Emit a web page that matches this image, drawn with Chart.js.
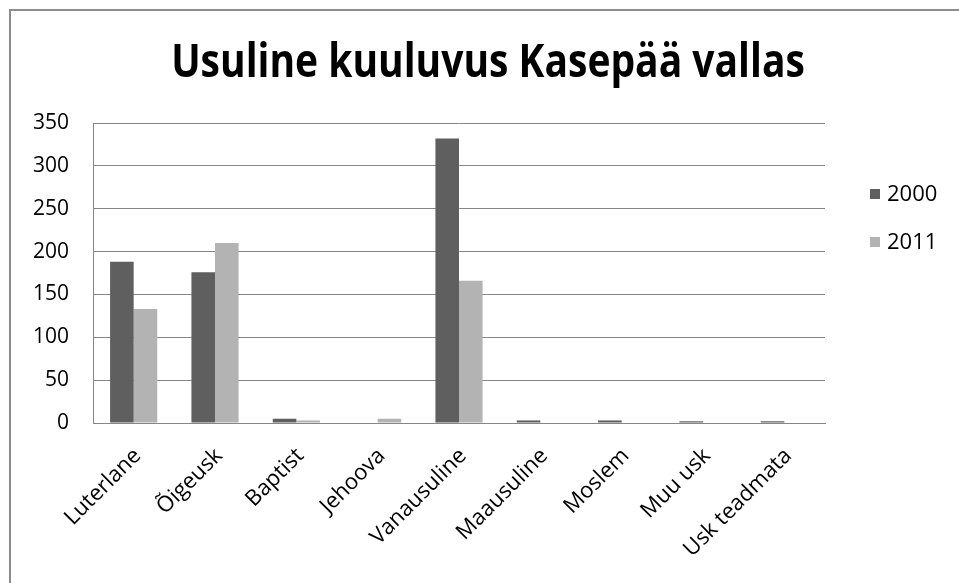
<!DOCTYPE html>
<html>
<head>
<meta charset="utf-8">
<script src="https://cdn.jsdelivr.net/npm/chart.js@4.4.1/dist/chart.umd.min.js"></script>
<style>
  html, body { margin: 0; padding: 0; background: #fff; overflow: hidden; }
  #wrap { position: relative; width: 959px; height: 583px; }
  #frame { position: absolute; left: 9px; top: 9px; width: 1000px; height: 1000px; border: 2px solid #8c8c8c; box-sizing: border-box; }
  #c { position: absolute; left: 0; top: 0; }
  #title { position: absolute; left: 0; width: 976px; top: 36px; text-align: center; font-family: "Open Sans", sans-serif; font-weight: bold; font-size: 39px; line-height: 1; color: #000; transform: scaleY(1.18); transform-origin: 50% 0; white-space: nowrap; }
  .leg { position: absolute; font-family: "Open Sans", sans-serif; font-size: 22px; color: #000; line-height: 1; }
  .leg i { display: inline-block; width: 10px; height: 10px; margin-right: 7px; vertical-align: 2px; }
</style>
</head>
<body>
<div id="wrap">
  <div id="frame"></div>
  <canvas id="c" width="959" height="583"></canvas>
  <div id="title"></div>
  <div class="leg" id="leg0" style="left:870px; top:181px;"></div>
  <div class="leg" id="leg1" style="left:870px; top:229px;"></div>
</div>
<script>
const chartTitle = "Usuline kuuluvus Kasepää vallas";
const categories = ["Luterlane", "Õigeusk", "Baptist", "Jehoova", "Vanausuline", "Maausuline", "Moslem", "Muu usk", "Usk teadmata"];
const seriesNames = ["2000", "2011"];
const values2000 = [188, 176, 5, 0, 332, 3, 3, 2, 2];
const values2011 = [133, 210, 3, 5, 166, 0, 0, 0, 0];
const yTicks = [0, 50, 100, 150, 200, 250, 300, 350];
const colors = ["#5f5f5f", "#b3b3b3"];

document.getElementById('title').textContent = chartTitle;
const legEls = [document.getElementById('leg0'), document.getElementById('leg1')];
seriesNames.forEach((n, i) => {
  legEls[i].innerHTML = '<i style="background:' + colors[i] + '"></i>' + n;
});

const tickFont = { family: "Open Sans", size: 21 };
const xTickFont = { family: "Open Sans", size: 22 };

new Chart(document.getElementById('c'), {
  type: 'bar',
  data: {
    labels: categories,
    datasets: [
      { label: seriesNames[0], data: values2000, backgroundColor: colors[0], borderWidth: 0, categoryPercentage: 0.58, barPercentage: 1.0 },
      { label: seriesNames[1], data: values2011, backgroundColor: colors[1], borderWidth: 0, categoryPercentage: 0.58, barPercentage: 1.0 }
    ]
  },
  options: {
    responsive: false,
    animation: false,
    devicePixelRatio: 1,
    layout: { padding: { left: 0, right: 134, top: 123, bottom: 0 } },
    plugins: {
      legend: { display: false },
      tooltip: { enabled: false },
      title: { display: false }
    },
    scales: {
      x: {
        grid: { display: false },
        border: { display: true, color: '#868686', width: 1 },
        ticks: {
          color: '#000', font: xTickFont, minRotation: 45, maxRotation: 45, padding: 12, labelOffset: 4, autoSkip: false
        },
        afterFit(scale) { scale.height = 160; }
      },
      y: {
        min: 0, max: 350,
        afterBuildTicks(scale) { scale.ticks = yTicks.map(v => ({ value: v })); },
        grid: { color: '#868686', lineWidth: 1, drawTicks: false },
        border: { display: true, color: '#868686', width: 1 },
        ticks: { color: '#000', font: tickFont, padding: 24 },
        afterFit(scale) { scale.width = 93; }
      }
    }
  }
});
</script>
</body>
</html>
